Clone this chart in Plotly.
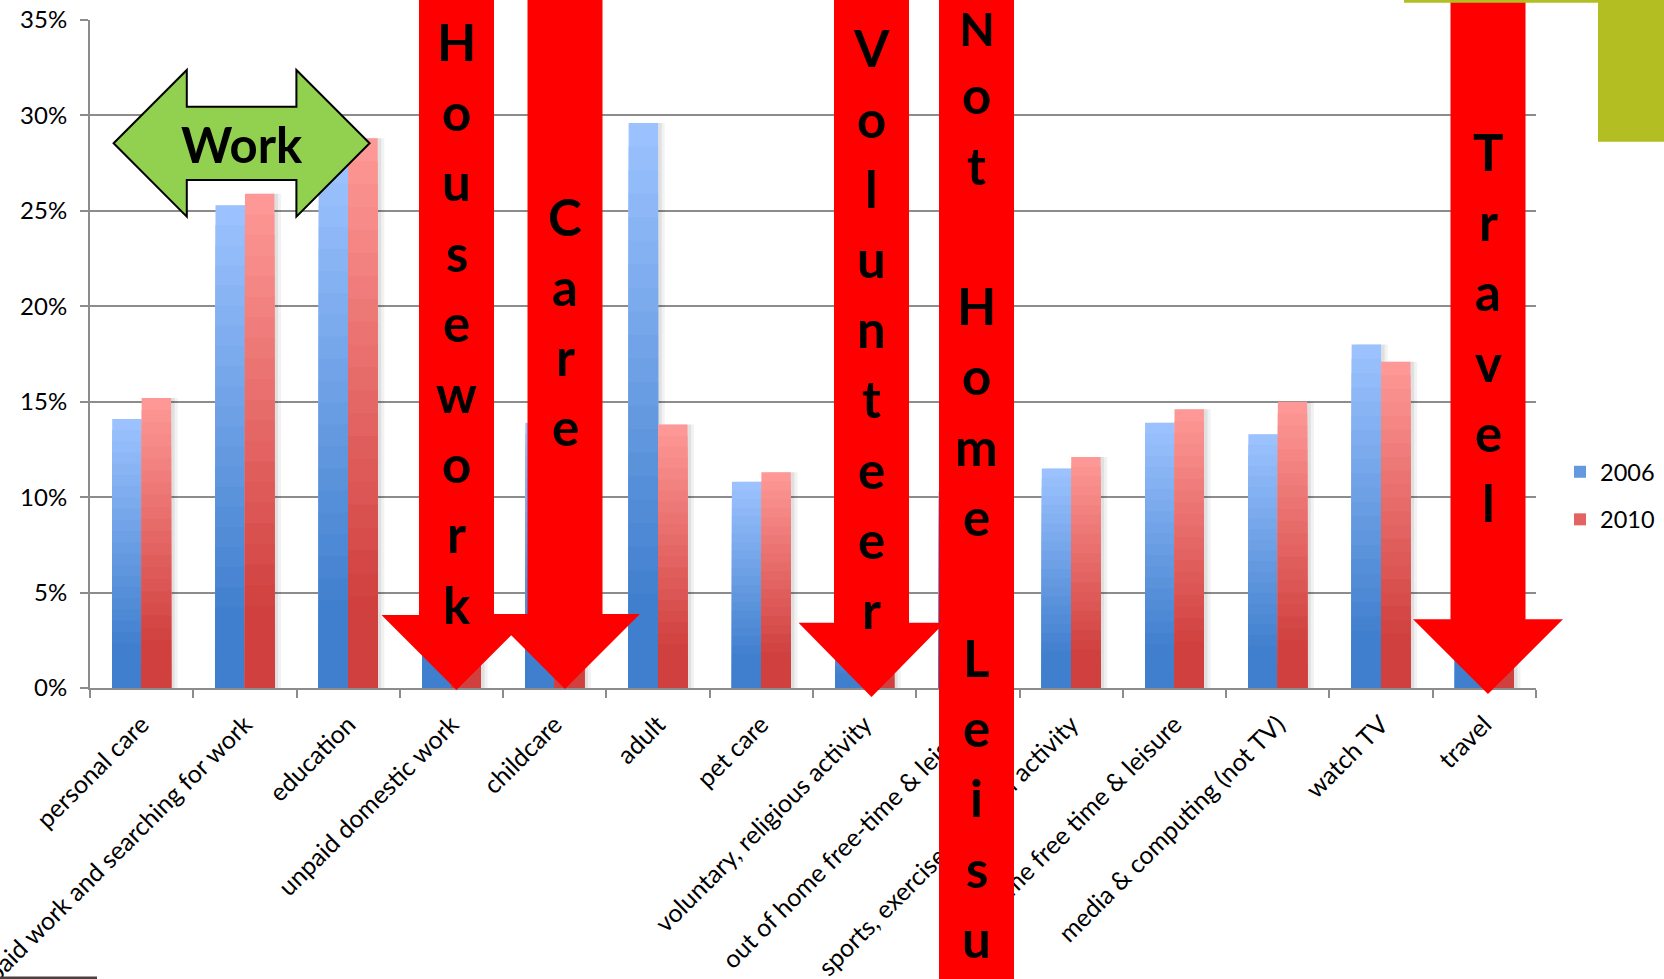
import plotly.graph_objects as go

# ---- data -------------------------------------------------------------
categories = [
    "personal care",
    "paid work and searching for work",
    "education",
    "unpaid domestic work",
    "childcare",
    "adult",
    "pet care",
    "voluntary, religious activity",
    "out of home free-time & leisure",
    "sports, exercise, physical activity",
    "in home free time & leisure",
    "media & computing (not TV)",
    "watch TV",
    "travel",
]
share_2006 = [14.1, 25.3, 27.6, 19.5, 13.9, 29.6, 10.8, 4.6, 10.3, 11.5, 13.9, 13.3, 18.0, 8.6]
share_2010 = [15.2, 25.9, 28.8, 20.6, 14.8, 13.8, 11.3, 5.1, 10.9, 12.1, 14.6, 15.0, 17.1, 8.3]
years = ["2006", "2010"]
y_tick_values = [0, 5, 10, 15, 20, 25, 30, 35]
y_tick_labels = ["0%", "5%", "10%", "15%", "20%", "25%", "30%", "35%"]

# callout words drawn over the chart
work_label = "Work"
down_labels = ["Housework", "Care", "Volunteer", "Not Home Leisu", "Travel"]

# ---- canvas geometry (pixels) ------------------------------------------
W, H = 1664, 979
L, R, T, B = 90, 1536, 20, 688


def fx(x):
    return (x - L) / (R - L)


def fy(y):
    return (B - y) / (B - T)


def mix(c_top, c_bot, f):
    f = max(0.0, min(1.0, (f - 0.15) / 0.85))
    return "rgb({},{},{})".format(*[round(b + (t - b) * f) for t, b in zip(c_top, c_bot)])


BLUE_TOP, BLUE_BOT = (157, 195, 255), (64, 127, 205)
RED_TOP, RED_BOT = (255, 154, 152), (207, 64, 62)
FONT = "Lato"

fig = go.Figure()

# gradient bars: stacked layers of decreasing height, darker toward the base,
# each series preceded by a faint drop shadow to its right
N = 24
BAR_W = 0.285
series = [
    (years[0], share_2006, BLUE_TOP, BLUE_BOT, -BAR_W),
    (years[1], share_2010, RED_TOP, RED_BOT, 0.0),
]
for name, vals, ctop, cbot, off in series:
    for shift, alpha in ((0.065, 0.05), (0.035, 0.07)):
        fig.add_trace(go.Bar(
            x=categories, y=vals, width=BAR_W, offset=off + shift,
            marker=dict(color=f"rgba(0,0,0,{alpha})", line=dict(width=0)),
            showlegend=False, legendgroup=name, hoverinfo="skip",
        ))
    for k in range(N):
        h = (N - k) / N
        fig.add_trace(go.Bar(
            x=categories,
            y=[v * h for v in vals],
            width=BAR_W,
            offset=off,
            marker=dict(color=mix(ctop, cbot, h - 0.5 / N), line=dict(width=0)),
            name=name,
            legendgroup=name,
            showlegend=(k == N // 2),
            hoverinfo="skip",
        ))

shapes = []
annotations = []


def path(points):
    return "M " + " L ".join(f"{fx(x):.5f},{fy(y):.5f}" for x, y in points) + " Z"


# green double-headed "Work" arrow
work_pts = [(113.6, 143.3), (186.8, 70), (186.8, 106.7), (296.4, 106.7), (296.4, 70),
            (369.6, 143.3), (296.4, 216.7), (296.4, 180), (186.8, 180), (186.8, 216.7)]
shapes.append(dict(type="path", xref="paper", yref="paper", path=path(work_pts),
                   fillcolor="#92d050", line=dict(color="black", width=2), layer="above"))
annotations.append(dict(text=work_label, x=fx(242), y=fy(161.7 - 0.37 * 49),
                        xref="paper", yref="paper", xanchor="center", yanchor="middle",
                        showarrow=False,
                        font=dict(family=FONT, size=49, color="black", weight="bold")))


def down_arrow(cx, neck, tip, hs=37.5, hh=75, top=-10):
    return [(cx - hs, top), (cx - hs, neck), (cx - hh, neck), (cx, tip),
            (cx + hh, neck), (cx + hs, neck), (cx + hs, top)]


RED = "#ff0000"
arrow_specs = [  # centre x, neck y, tip y, half head width
    (456.5, 615.0, 690.0, 75),
    (565.0, 614.0, 689.0, 75),
    (871.5, 622.7, 697.0, 73),
    None,
    (1488.0, 619.3, 694.0, 75),
]
for spec in arrow_specs:
    if spec is None:
        shapes.append(dict(type="rect", xref="paper", yref="paper",
                           x0=fx(939), x1=fx(1014), y0=fy(-10), y1=fy(H + 10),
                           fillcolor=RED, line=dict(width=0), layer="above"))
    else:
        cx, neck, tip, hh = spec
        shapes.append(dict(type="path", xref="paper", yref="paper",
                           path=path(down_arrow(cx, neck, tip, hh=hh)),
                           fillcolor=RED, line=dict(width=0), layer="above"))

# vertical lettering inside the red arrows: (centre x, first baseline, step)
letter_layout = [
    (456.5, 60.0, 70.4),
    (565.0, 235.0, 70.1),
    (871.5, 66.7, 70.2),
    (976.5, 43.3, 70.3),
    (1488.0, 170.0, 70.3),
]
FS = 51
for word, (cx, base0, step) in zip(down_labels, letter_layout):
    for i, ch in enumerate(word):
        if ch == " ":
            continue
        base = base0 + i * step
        size = FS
        if base - 0.99 * FS < 0:
            # keep the topmost glyph box inside the canvas
            size = 46
            base = max(base, 0.99 * size)
        annotations.append(dict(text=ch, x=fx(cx), y=fy(base - 0.37 * size),
                                xref="paper", yref="paper", xanchor="center",
                                yanchor="middle", showarrow=False,
                                font=dict(family=FONT, size=size, color="black",
                                          weight="bold")))

# olive slide decoration top right and a dark strip bottom left
shapes.append(dict(type="rect", xref="paper", yref="paper", x0=fx(1404), x1=fx(1600),
                   y0=fy(2.7), y1=fy(-5), fillcolor="#b2be22", line=dict(width=0),
                   layer="above"))
shapes.append(dict(type="rect", xref="paper", yref="paper", x0=fx(1598), x1=fx(1670),
                   y0=fy(141.7), y1=fy(-5), fillcolor="#b2be22", line=dict(width=0),
                   layer="above"))
shapes.append(dict(type="rect", xref="paper", yref="paper", x0=fx(-5), x1=fx(97),
                   y0=fy(985), y1=fy(976.5), fillcolor="#4d4040", line=dict(width=0),
                   layer="above"))

GRID = "#8c8c8c"
fig.update_layout(
    width=W, height=H,
    margin=dict(l=L, r=W - R, t=T, b=H - B, pad=0, autoexpand=False),
    paper_bgcolor="white", plot_bgcolor="white",
    barmode="overlay",
    font=dict(family=FONT, color="black"),
    showlegend=True,
    legend=dict(x=fx(1560), y=fy(496), xanchor="left", yanchor="middle",
                xref="paper", yref="paper",
                font=dict(family=FONT, size=23.5, color="black"),
                traceorder="grouped", tracegroupgap=14, itemwidth=30,
                bgcolor="rgba(0,0,0,0)"),
    xaxis=dict(type="category", range=[-0.5, len(categories) - 0.5],
               showline=True, linecolor=GRID, linewidth=2,
               ticks="outside", tickson="boundaries", ticklen=8, tickcolor=GRID,
               tickwidth=2, tickangle=-45, showgrid=False, automargin=False,
               ticklabelstandoff=10,
               tickfont=dict(family=FONT, size=25, color="black")),
    yaxis=dict(range=[0, 35], tickvals=y_tick_values, ticktext=y_tick_labels,
               showgrid=True, gridcolor=GRID, gridwidth=1.6, zeroline=False,
               showline=True, linecolor=GRID, linewidth=2,
               ticks="outside", ticklen=8, tickcolor=GRID, tickwidth=1.6,
               automargin=False, ticklabelstandoff=8,
               tickfont=dict(family=FONT, size=24, color="black")),
    shapes=shapes,
    annotations=annotations,
)

fig.write_html("out.html")
